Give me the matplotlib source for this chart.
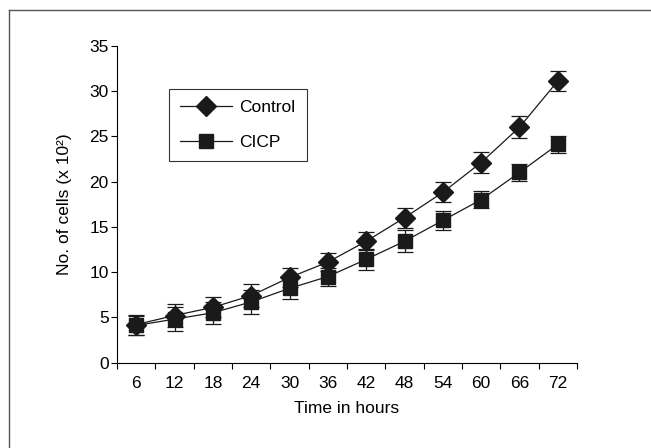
import matplotlib
matplotlib.use("Agg")
import matplotlib.pyplot as plt
from matplotlib.lines import Line2D
import numpy as np

hours = ["6", "12", "18", "24", "30", "36", "42", "48", "54", "60", "66", "72"]
control = [4.2, 5.2, 6.1, 7.4, 9.4, 11.1, 13.4, 16.0, 18.8, 22.1, 26.0, 31.1]
control_err = [1.1, 1.3, 1.1, 1.3, 1.1, 1.0, 1.0, 1.1, 1.1, 1.2, 1.2, 1.1]
cicp = [4.1, 4.8, 5.5, 6.7, 8.2, 9.5, 11.4, 13.4, 15.7, 18.0, 21.0, 24.1]
cicp_err = [1.0, 1.3, 1.2, 1.3, 1.2, 1.0, 1.2, 1.2, 1.0, 0.9, 0.9, 0.9]

plt.rcParams['font.family'] = ['Liberation Sans', 'DejaVu Sans']
FS = 12.5
C = '#1a1a1a'
D_MS = 10.5
S_MS = 10

fig = plt.figure(figsize=(6.51, 4.48), dpi=100)
ax = fig.add_axes([117/651, 1-362.6/448, 460/651, (362.6-45.7)/448])

x = np.arange(len(hours))
ax.errorbar(x, control, yerr=control_err, fmt='-', color=C, lw=0.9,
            marker='D', markersize=D_MS, capsize=6, elinewidth=0.9, capthick=0.9,
            zorder=3)
ax.errorbar(x, cicp, yerr=cicp_err, fmt='-', color=C, lw=0.9,
            marker='s', markersize=S_MS, capsize=6, elinewidth=0.9, capthick=0.9,
            zorder=3)

ax.set_xlim(-0.5, len(hours) - 0.5)
ax.set_ylim(0, 35)
ax.set_yticks(np.arange(0, 36, 5))
ax.set_xticks(np.arange(-0.5, len(hours), 1))
ax.set_xticklabels([])
ax.set_xticks(x, minor=True)
ax.set_xticklabels(hours, minor=True)
ax.tick_params(axis='x', which='minor', length=0, pad=10, labelsize=FS)
ax.tick_params(axis='x', which='major', length=4, width=0.8, direction='out')
ax.tick_params(axis='y', length=4, width=0.8, direction='out', labelsize=FS, pad=2)
for s in ['top', 'right']:
    ax.spines[s].set_visible(False)
for s in ['left', 'bottom']:
    ax.spines[s].set_linewidth(0.8)

ax.set_xlabel('Time in hours', fontsize=FS, labelpad=7)
ax.set_ylabel('No. of cells (x 10²)', fontsize=FS, labelpad=12)

handles = [Line2D([], [], color=C, lw=0.9, marker='D', markersize=D_MS),
           Line2D([], [], color=C, lw=0.9, marker='s', markersize=S_MS)]
leg = ax.legend(handles, ['Control', 'CICP'], loc='upper left',
                bbox_to_anchor=((169-117)/460, 1-(89-45.7)/316.9),
                frameon=True, fancybox=False, edgecolor='black', fontsize=FS,
                handlelength=3.0, labelspacing=1.1, borderpad=0.65, handletextpad=0.4,
                borderaxespad=0)
leg.get_frame().set_linewidth(0.8)

fig.add_artist(Line2D([9/651, 1], [1-10/448, 1-10/448], color='#555555', lw=1.0))
fig.add_artist(Line2D([9/651, 9/651], [0, 1-10/448], color='#555555', lw=1.0))

fig.savefig('out.png', dpi=100)
